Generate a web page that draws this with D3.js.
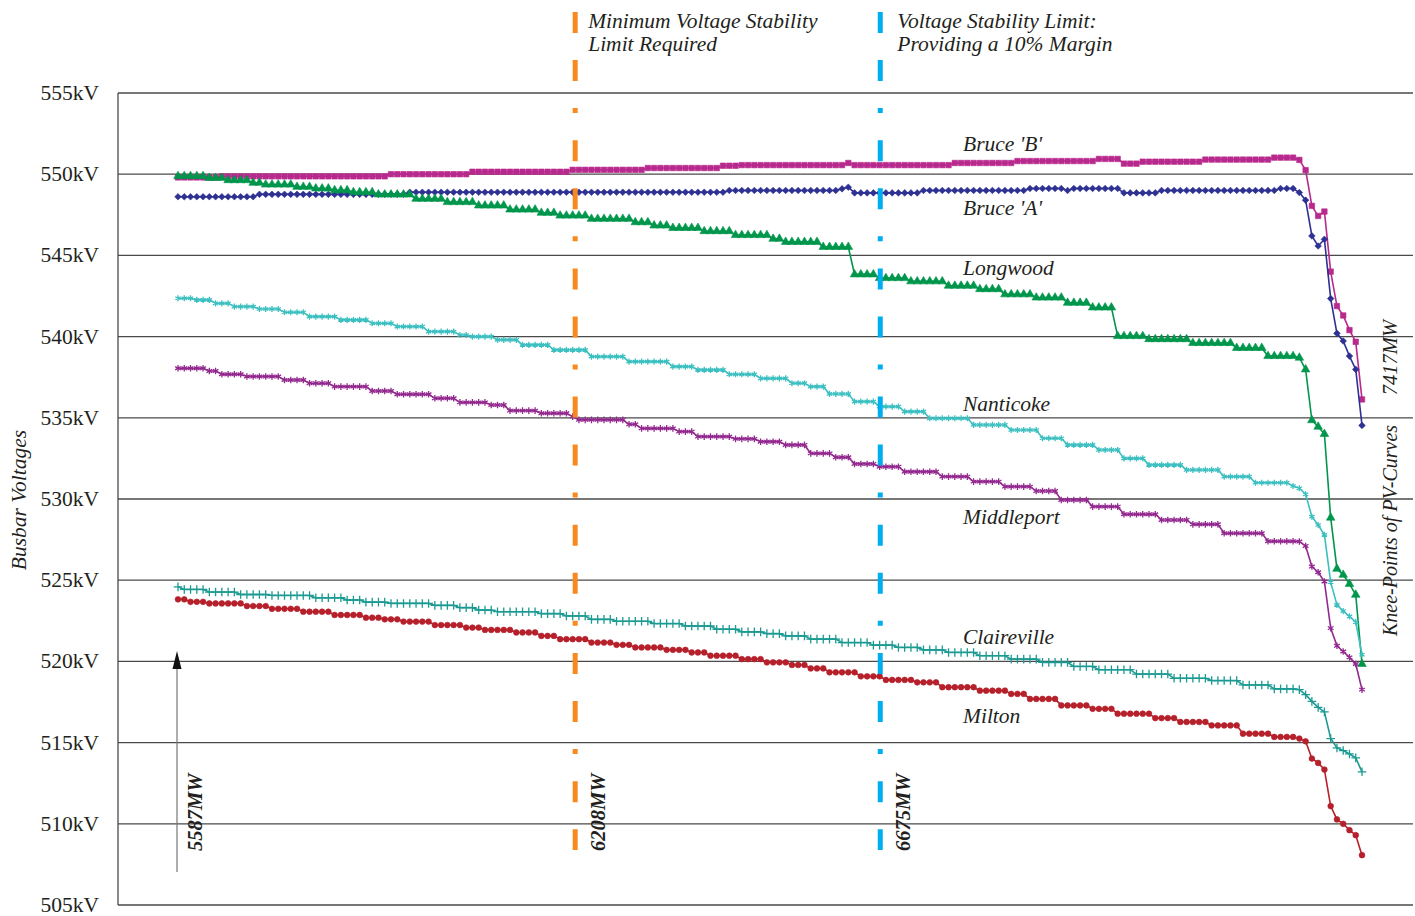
<!DOCTYPE html>
<html>
<head>
<meta charset="utf-8">
<script src="https://cdn.jsdelivr.net/npm/d3@7"></script>
<style>
  body { margin: 0; background: #ffffff; }
  text { font-family: "Liberation Serif", "Times New Roman", serif; fill: #231f20; }
</style>
</head>
<body>
<svg id="chart" width="1415" height="916"></svg>
<script>
// Busbar voltage (kV) at each load step, from 5587 MW up to the knee point at 7417 MW
const bruceB = [
  549.8,549.8,549.8,549.8,549.8,549.8,549.8,549.87,549.87,549.87,
  549.87,549.87,549.87,549.87,549.87,549.87,549.87,549.87,549.87,549.87,
  549.87,549.87,549.87,549.87,549.87,549.87,549.87,549.87,549.87,549.87,
  549.87,549.87,549.87,549.87,550,550,550,550,550,550,
  550,550,550,550,550,550,550,550.15,550.15,550.15,
  550.15,550.15,550.15,550.15,550.15,550.15,550.15,550.15,550.15,550.15,
  550.15,550.15,550.15,550.27,550.27,550.27,550.27,550.27,550.27,550.27,
  550.27,550.27,550.27,550.27,550.27,550.38,550.38,550.38,550.38,550.38,
  550.38,550.38,550.38,550.38,550.38,550.38,550.38,550.52,550.52,550.52,
  550.56,550.56,550.56,550.56,550.56,550.56,550.56,550.56,550.56,550.56,
  550.56,550.56,550.56,550.56,550.56,550.56,550.56,550.69,550.56,550.56,
  550.56,550.56,550.56,550.56,550.56,550.56,550.56,550.56,550.56,550.56,
  550.56,550.56,550.56,550.56,550.69,550.69,550.69,550.69,550.69,550.69,
  550.69,550.69,550.69,550.69,550.81,550.81,550.81,550.81,550.81,550.81,
  550.81,550.81,550.81,550.81,550.81,550.81,550.81,550.94,550.94,550.94,
  550.94,550.65,550.65,550.65,550.77,550.77,550.77,550.77,550.77,550.77,
  550.77,550.77,550.77,550.77,550.9,550.9,550.9,550.9,550.9,550.9,
  550.9,550.9,550.9,550.9,550.9,551.02,551.02,551.02,551.02,550.88,
  550.25,548.05,547.43,547.7,544.0,541.88,541.3,540.4,539.68,536.13
];
const bruceA = [
  548.61,548.61,548.61,548.61,548.61,548.61,548.61,548.61,548.61,548.61,
  548.61,548.61,548.61,548.76,548.76,548.76,548.76,548.76,548.76,548.76,
  548.76,548.76,548.76,548.76,548.76,548.76,548.76,548.76,548.76,548.76,
  548.76,548.76,548.76,548.76,548.76,548.76,548.76,548.89,548.89,548.89,
  548.89,548.89,548.89,548.89,548.89,548.89,548.89,548.89,548.89,548.89,
  548.89,548.89,548.89,548.89,548.89,548.89,548.89,548.89,548.89,548.89,
  548.89,548.89,548.89,548.89,548.89,548.89,548.89,548.89,548.89,548.89,
  548.89,548.89,548.89,548.89,548.89,548.89,548.89,548.89,548.89,548.89,
  548.89,548.89,548.89,548.89,548.89,548.89,548.89,548.89,549.0,549.0,
  549.0,549.0,549.0,549.0,549.0,549.0,549.0,549.0,549.0,549.0,
  549.0,549.0,549.0,549.0,549.0,549.0,549.1,549.2,548.85,548.85,
  548.85,548.85,548.85,548.85,548.85,548.85,548.85,548.85,548.85,549.0,
  549.0,549.0,549.0,549.0,549.0,549.0,549.0,549.0,549.0,549.0,
  549.0,549.0,549.0,549.0,549.0,549.0,549.12,549.12,549.12,549.12,
  549.12,549.12,549.0,549.12,549.12,549.12,549.12,549.12,549.12,549.12,
  549.12,548.85,548.85,548.85,548.85,548.85,548.85,549.0,549.0,549.0,
  549.0,549.0,549.0,549.0,549.0,549.0,549.0,549.0,549.0,549.0,
  549.0,549.0,549.0,549.0,549.0,549.0,549.12,549.12,549.12,548.87,
  548.4,546.2,545.58,545.99,542.34,540.2,539.73,538.8,537.98,534.53
];
const longwood = [
  549.88,549.88,549.88,549.88,549.88,549.77,549.77,549.77,549.63,549.63,
  549.63,549.63,549.47,549.47,549.36,549.36,549.36,549.36,549.36,549.22,
  549.22,549.22,549.12,549.12,549.12,549.01,549.01,549.01,548.89,548.89,
  548.89,548.89,548.75,548.75,548.75,548.75,548.75,548.75,548.48,548.48,
  548.48,548.48,548.48,548.28,548.28,548.28,548.28,548.28,548.07,548.07,
  548.07,548.07,548.07,547.82,547.82,547.82,547.82,547.82,547.62,547.62,
  547.62,547.45,547.45,547.45,547.45,547.45,547.25,547.25,547.25,547.25,
  547.25,547.25,547.25,547.04,547.04,547.04,546.84,546.84,546.84,546.69,
  546.69,546.69,546.69,546.69,546.49,546.49,546.49,546.49,546.49,546.25,
  546.25,546.25,546.25,546.25,546.25,546.02,546.02,545.83,545.83,545.83,
  545.83,545.83,545.83,545.52,545.52,545.52,545.52,545.52,543.83,543.83,
  543.83,543.83,543.6,543.6,543.6,543.6,543.6,543.4,543.4,543.4,
  543.4,543.4,543.4,543.13,543.13,543.13,543.13,543.13,542.92,542.92,
  542.92,542.92,542.6,542.6,542.6,542.6,542.6,542.4,542.4,542.4,
  542.4,542.4,542.08,542.08,542.08,542.08,541.79,541.79,541.79,541.79,
  540.03,540.03,540.03,540.03,540.03,539.84,539.84,539.84,539.84,539.84,
  539.84,539.84,539.6,539.6,539.6,539.6,539.6,539.6,539.6,539.3,
  539.3,539.3,539.3,539.3,538.8,538.8,538.8,538.8,538.8,538.7,
  537.98,534.85,534.45,534.0,528.85,525.7,525.33,524.77,524.1,519.84
];
const nanticoke = [
  542.36,542.36,542.36,542.26,542.26,542.26,542.05,542.05,542.05,541.85,
  541.85,541.85,541.85,541.7,541.7,541.7,541.7,541.5,541.5,541.5,
  541.5,541.23,541.23,541.23,541.23,541.23,541.03,541.03,541.03,541.03,
  541.03,540.82,540.82,540.82,540.82,540.62,540.62,540.62,540.62,540.62,
  540.31,540.31,540.31,540.31,540.31,540.1,540.1,540.0,540.0,540.0,
  540.0,539.8,539.8,539.8,539.8,539.49,539.49,539.49,539.49,539.49,
  539.18,539.18,539.18,539.18,539.18,539.18,538.77,538.77,538.77,538.77,
  538.77,538.77,538.46,538.46,538.46,538.46,538.46,538.46,538.46,538.15,
  538.15,538.15,538.15,537.95,537.95,537.95,537.95,537.95,537.68,537.68,
  537.68,537.68,537.68,537.43,537.43,537.43,537.43,537.43,537.13,537.13,
  537.13,536.92,536.92,536.92,536.47,536.47,536.47,536.47,536.0,536.0,
  536.0,536.0,535.69,535.69,535.69,535.69,535.38,535.38,535.38,535.38,
  534.97,534.97,534.97,534.97,534.97,534.97,534.97,534.56,534.56,534.56,
  534.56,534.56,534.56,534.25,534.25,534.25,534.25,534.25,533.74,533.74,
  533.74,533.74,533.33,533.33,533.33,533.33,533.33,533.02,533.02,533.02,
  533.02,532.5,532.5,532.5,532.5,532.1,532.1,532.1,532.1,532.1,
  532.1,531.79,531.79,531.79,531.79,531.79,531.79,531.38,531.38,531.38,
  531.38,531.38,531.0,531.0,531.0,531.0,531.0,531.0,530.8,530.66,
  530.29,528.91,528.4,527.79,524.88,523.48,523.1,522.77,522.42,520.41
];
const middleport = [
  538.05,538.05,538.05,538.05,538.05,537.88,537.88,537.68,537.68,537.68,
  537.68,537.54,537.54,537.54,537.54,537.54,537.54,537.33,537.33,537.33,
  537.33,537.13,537.13,537.13,537.13,536.92,536.92,536.92,536.92,536.92,
  536.92,536.65,536.65,536.65,536.65,536.45,536.45,536.45,536.45,536.45,
  536.45,536.2,536.2,536.2,536.2,535.95,535.95,535.95,535.95,535.95,
  535.79,535.79,535.79,535.44,535.44,535.44,535.44,535.44,535.28,535.28,
  535.28,535.28,535.28,535.07,534.87,534.87,534.87,534.87,534.87,534.87,
  534.87,534.87,534.6,534.6,534.35,534.35,534.35,534.35,534.35,534.35,
  534.15,534.15,534.15,533.84,533.84,533.84,533.84,533.84,533.84,533.7,
  533.7,533.7,533.7,533.53,533.53,533.53,533.53,533.33,533.33,533.33,
  533.33,532.81,532.81,532.81,532.81,532.57,532.57,532.57,532.16,532.16,
  532.16,532.16,531.99,531.99,531.99,531.99,531.68,531.68,531.68,531.68,
  531.68,531.68,531.38,531.38,531.38,531.38,531.38,531.07,531.07,531.07,
  531.07,531.07,530.76,530.76,530.76,530.76,530.76,530.49,530.49,530.49,
  530.49,529.94,529.94,529.94,529.94,529.94,529.53,529.53,529.53,529.53,
  529.53,529.06,529.06,529.06,529.06,529.06,529.06,528.71,528.71,528.71,
  528.71,528.71,528.44,528.44,528.44,528.44,528.44,527.89,527.89,527.89,
  527.89,527.89,527.89,527.89,527.4,527.4,527.4,527.4,527.4,527.38,
  527.11,525.84,525.49,524.92,522.05,520.96,520.61,520.25,519.84,518.26
];
const claireville = [
  524.59,524.43,524.43,524.43,524.43,524.27,524.27,524.27,524.27,524.27,
  524.12,524.12,524.12,524.12,524.12,524.06,524.06,524.06,524.06,524.06,
  524.06,524.06,523.92,523.92,523.92,523.92,523.92,523.78,523.78,523.78,
  523.65,523.65,523.65,523.65,523.57,523.57,523.57,523.57,523.57,523.57,
  523.57,523.45,523.45,523.45,523.45,523.31,523.31,523.31,523.16,523.16,
  523.16,523.06,523.06,523.06,523.06,523.06,523.06,523.06,522.94,522.94,
  522.94,522.94,522.8,522.8,522.8,522.8,522.59,522.59,522.59,522.59,
  522.47,522.47,522.47,522.47,522.47,522.47,522.33,522.33,522.33,522.33,
  522.33,522.18,522.18,522.18,522.18,522.18,521.98,521.98,521.98,521.98,
  521.82,521.82,521.82,521.82,521.71,521.71,521.71,521.57,521.57,521.57,
  521.57,521.37,521.37,521.37,521.37,521.37,521.16,521.16,521.16,521.16,
  521.16,521.0,521.0,521.0,521.0,520.86,520.86,520.86,520.86,520.71,
  520.71,520.71,520.71,520.55,520.55,520.55,520.55,520.55,520.35,520.35,
  520.35,520.35,520.35,520.14,520.14,520.14,520.14,520.14,519.94,519.94,
  519.94,519.94,519.94,519.69,519.69,519.69,519.69,519.49,519.49,519.49,
  519.49,519.49,519.49,519.22,519.22,519.22,519.22,519.22,519.22,518.96,
  518.96,518.96,518.96,518.96,518.96,518.82,518.82,518.82,518.82,518.82,
  518.55,518.55,518.55,518.55,518.55,518.31,518.31,518.31,518.31,518.26,
  517.95,517.54,517.17,516.89,515.25,514.67,514.51,514.3,514.06,513.2
];
const milton = [
  523.82,523.82,523.67,523.67,523.67,523.57,523.57,523.57,523.57,523.57,
  523.57,523.41,523.41,523.41,523.41,523.24,523.24,523.24,523.24,523.24,
  523.06,523.06,523.06,523.06,523.06,522.86,522.86,522.86,522.86,522.86,
  522.69,522.69,522.69,522.59,522.59,522.59,522.45,522.45,522.45,522.45,
  522.45,522.24,522.24,522.24,522.24,522.24,522.08,522.08,522.08,521.94,
  521.94,521.94,521.94,521.94,521.78,521.78,521.78,521.78,521.57,521.57,
  521.57,521.37,521.37,521.37,521.37,521.37,521.16,521.16,521.16,521.16,
  521.02,521.02,521.02,520.86,520.86,520.86,520.86,520.86,520.71,520.71,
  520.71,520.71,520.55,520.55,520.55,520.35,520.35,520.35,520.35,520.35,
  520.14,520.14,520.14,520.14,519.94,519.94,519.94,519.94,519.78,519.78,
  519.78,519.57,519.57,519.57,519.33,519.33,519.33,519.33,519.33,519.08,
  519.08,519.08,519.08,518.86,518.86,518.86,518.86,518.86,518.71,518.71,
  518.71,518.71,518.41,518.41,518.41,518.41,518.41,518.41,518.2,518.2,
  518.2,518.2,518.2,518.0,518.0,518.0,517.69,517.69,517.69,517.69,
  517.69,517.29,517.29,517.29,517.29,517.29,517.08,517.08,517.08,517.08,
  516.78,516.78,516.78,516.78,516.78,516.78,516.51,516.51,516.51,516.51,
  516.27,516.27,516.27,516.27,516.27,516.06,516.06,516.06,516.06,516.06,
  515.55,515.55,515.55,515.55,515.55,515.35,515.35,515.35,515.35,515.25,
  515.08,514.02,513.75,513.34,511.09,510.27,510.0,509.61,509.3,508.07
];

// Axis ticks (kV)
const yTicks = [555, 550, 545, 540, 535, 530, 525, 520, 515, 510, 505];

// Series names and label anchor voltages
const seriesNames = ["Bruce 'B'", "Bruce 'A'", "Longwood", "Nanticoke", "Middleport", "Claireville", "Milton"];
const seriesColors = ["#b8298d", "#2e3192", "#00964b", "#3cbfc0", "#93288f", "#1b9a92", "#b5202b"];
const seriesLabelKV = [551.45, 547.5, 543.8, 535.4, 528.45, 521.1, 516.18];

// Load points marked on the chart (MW) and the load step each falls on
const loadMarkMW = [5587, 6208, 6675, 7417];
const loadMarkStep = [0, 63.4, 112.1, 189];

// Stability limit annotations
const limitText = [
  ["Minimum Voltage Stability", "Limit Required"],
  ["Voltage Stability Limit:", "Providing a 10% Margin"]
];
const limitColors = ["#f7891f", "#00aeef"];
const limitTextOffset = [13, 17];

const svg = d3.select("#chart");
const steps = d3.range(bruceB.length);

const x = d3.scaleLinear().domain([0, steps.length - 1]).range([178, 1362]);
const y = d3.scaleLinear().domain([505, 555]).range([905, 93]);

const plotLeft = 118, plotRight = 1413;
const FS = 21.5;

// Horizontal gridlines
svg.append("g").selectAll("line").data(yTicks).join("line")
  .attr("x1", plotLeft).attr("x2", plotRight)
  .attr("y1", d => y(d)).attr("y2", d => y(d))
  .attr("stroke", "#4a4a4a").attr("stroke-width", 1.3);

// Vertical axis line
svg.append("line")
  .attr("x1", plotLeft).attr("x2", plotLeft)
  .attr("y1", y(555)).attr("y2", y(505))
  .attr("stroke", "#4a4a4a").attr("stroke-width", 1.3);

// Tick labels
svg.append("g").selectAll("text").data(yTicks).join("text")
  .attr("x", 99).attr("y", d => y(d) + 7)
  .attr("text-anchor", "end")
  .attr("font-size", FS)
  .text(d => d + "kV");

// Axis title
svg.append("text")
  .attr("transform", "translate(26,500) rotate(-90)")
  .attr("text-anchor", "middle")
  .attr("font-size", FS).attr("font-style", "italic")
  .text("Busbar Voltages");

// Series
const seriesData = [bruceB, bruceA, longwood, nanticoke, middleport, claireville, milton];
const sym = (name, fallback) => d3[name] || fallback;
const markers = [
  { type: d3.symbolSquare, size: 30, fill: true },
  { type: sym("symbolDiamond2", d3.symbolDiamond), size: 28, fill: true },
  { type: d3.symbolTriangle, size: 32, fill: true },
  { type: sym("symbolAsterisk", d3.symbolCross), size: 26, fill: false },
  { type: sym("symbolAsterisk", d3.symbolCross), size: 30, fill: false },
  { type: sym("symbolPlus", d3.symbolCross), size: 26, fill: false },
  { type: d3.symbolCircle, size: 26, fill: true }
];

const line = d3.line().x((d, i) => x(i)).y(d => y(d)).curve(d3.curveLinear);

seriesData.forEach((vals, k) => {
  const g = svg.append("g");
  g.append("path")
    .attr("d", line(vals))
    .attr("fill", "none")
    .attr("stroke", seriesColors[k])
    .attr("stroke-width", 1.6);
  const m = markers[k];
  const shape = d3.symbol().type(m.type).size(m.size);
  g.selectAll("path.mk").data(vals).join("path")
    .attr("class", "mk")
    .attr("transform", (d, i) => `translate(${x(i)},${y(d)})`)
    .attr("d", shape)
    .attr("fill", m.fill ? seriesColors[k] : "none")
    .attr("stroke", seriesColors[k])
    .attr("stroke-width", m.fill ? 0.6 : 1.3);
});

// Series labels
svg.append("g").selectAll("text").data(seriesNames).join("text")
  .attr("x", 963).attr("y", (d, i) => y(seriesLabelKV[i]))
  .attr("font-size", FS).attr("font-style", "italic")
  .text(d => d);

// Stability limit lines with their captions
[1, 2].forEach((mi, j) => {
  const lx = x(loadMarkStep[mi]);
  svg.append("line")
    .attr("x1", lx).attr("x2", lx)
    .attr("y1", 12).attr("y2", 850)
    .attr("stroke", limitColors[j]).attr("stroke-width", 5)
    .attr("stroke-dasharray", "21,27,21,27,5,27.2");
  limitText[j].forEach((t, r) => {
    svg.append("text")
      .attr("x", lx + limitTextOffset[j]).attr("y", 28 + r * 23)
      .attr("font-size", FS).attr("font-style", "italic")
      .text(t);
  });
});

// Load labels
[0, 1, 2].forEach(mi => {
  const lx = x(loadMarkStep[mi]) + (mi === 0 ? 24 : 30);
  svg.append("text")
    .attr("transform", `translate(${lx},851) rotate(-90)`)
    .attr("font-size", 20.5).attr("font-style", "italic").attr("font-weight", "bold")
    .text(loadMarkMW[mi] + "MW");
});

// Starting-load arrow
const ax = x(loadMarkStep[0]) - 1;
svg.append("line")
  .attr("x1", ax).attr("x2", ax).attr("y1", 872).attr("y2", 665)
  .attr("stroke", "#777").attr("stroke-width", 1.2);
svg.append("path")
  .attr("d", `M${ax},651 L${ax - 4.5},669 L${ax + 4.5},669 Z`)
  .attr("fill", "#111");

// Knee-point caption
svg.append("text")
  .attr("transform", "translate(1397,636) rotate(-90)")
  .attr("font-size", 20).attr("font-style", "italic")
  .text("Knee-Points of PV-Curves");
svg.append("text")
  .attr("transform", "translate(1397,320) rotate(-90)")
  .attr("text-anchor", "end")
  .attr("font-size", 20.5).attr("font-style", "italic")
  .text(loadMarkMW[3] + "MW");
</script>
</body>
</html>
